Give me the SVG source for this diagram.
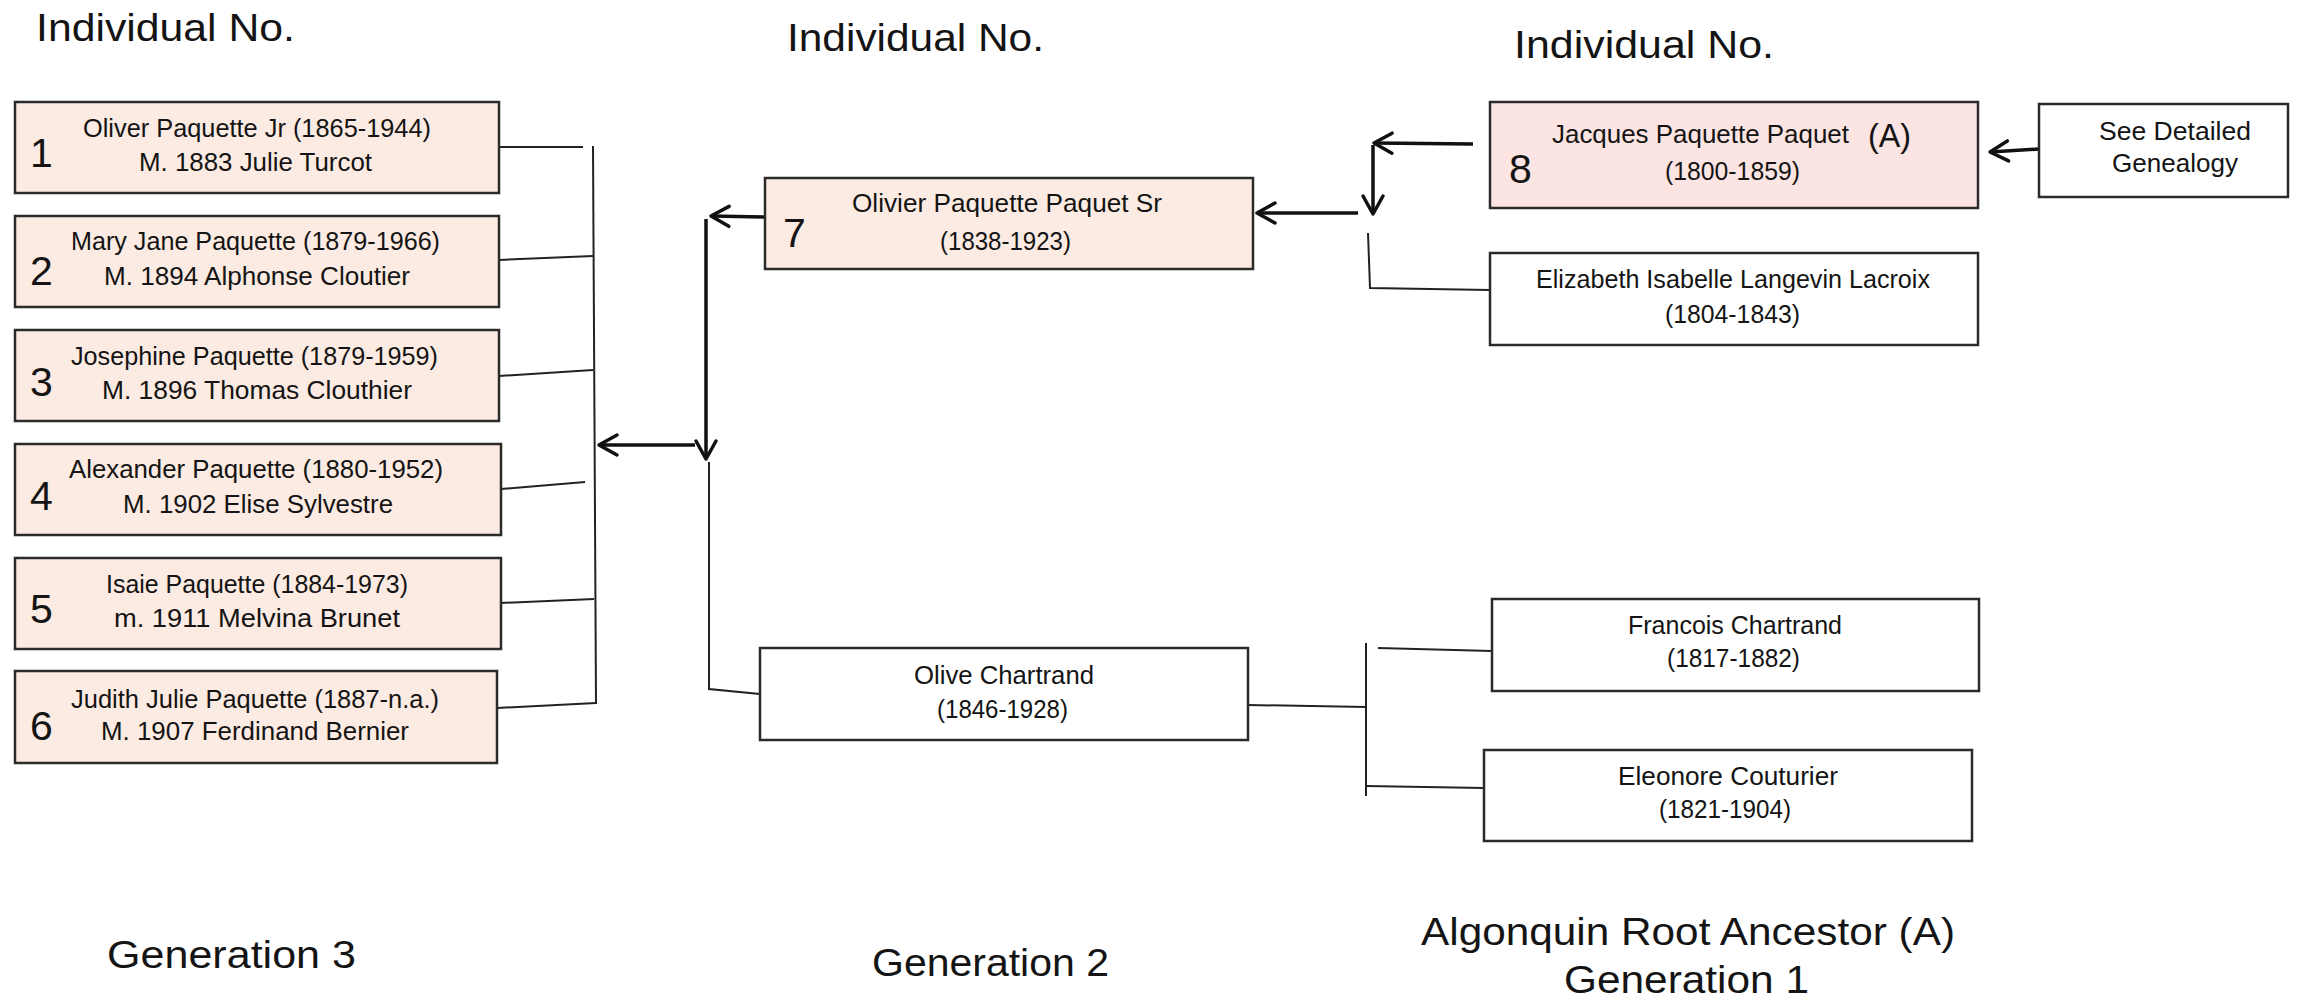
<svg xmlns="http://www.w3.org/2000/svg" width="2309" height="1006" viewBox="0 0 2309 1006">
<defs>
<style>
text{font-family:"Liberation Sans",Arial,sans-serif;fill:#141414}
.h{font-size:38px}
.t{font-size:25px}
.n{font-size:41px}
.box{stroke:#2b2b2b;stroke-width:2.5}
.peach{fill:#fcebe2}
.pink{fill:#fbe4e2}
.white{fill:#ffffff}
.ln{stroke:#222;stroke-width:2;fill:none}
.ar{stroke:#111;stroke-width:3.5;fill:none;marker-end:url(#arr)}
</style>
<marker id="arr" markerUnits="userSpaceOnUse" viewBox="-22 -14 26 28" markerWidth="26" markerHeight="28" refX="0" refY="0" orient="auto">
<path d="M-18,-10 L0,0 L-18,10" fill="none" stroke="#111" stroke-width="3.5" stroke-linecap="round" stroke-linejoin="round"/>
</marker>
</defs>
<rect width="2309" height="1006" fill="#ffffff"/>

<g id="headers">
<text class="h" x="36" y="41" textLength="259" lengthAdjust="spacingAndGlyphs">Individual No.</text>
<text class="h" x="787" y="51" textLength="257" lengthAdjust="spacingAndGlyphs">Individual No.</text>
<text class="h" x="1514" y="58" textLength="260" lengthAdjust="spacingAndGlyphs">Individual No.</text>
</g>

<g id="connectors">
<line class="ln" x1="499" y1="147" x2="583" y2="147"/>
<line class="ln" x1="499" y1="260" x2="593" y2="256"/>
<line class="ln" x1="499" y1="376" x2="593" y2="370"/>
<line class="ln" x1="501" y1="489" x2="585" y2="482"/>
<line class="ln" x1="501" y1="603" x2="594" y2="599"/>
<line class="ln" x1="497" y1="708" x2="596" y2="703"/>
<line class="ln" x1="593" y1="146" x2="596" y2="704"/>
<line class="ar" x1="695" y1="445" x2="599" y2="445"/>
<line class="ar" x1="765" y1="217" x2="711" y2="216"/>
<line class="ar" x1="706" y1="219" x2="706" y2="459"/>
<polyline class="ln" points="709,462 709,689 760,694"/>
<line class="ar" x1="1473" y1="144" x2="1374" y2="143"/>
<line class="ar" x1="1373" y1="145" x2="1373" y2="214"/>
<line class="ar" x1="1358" y1="213" x2="1257" y2="213"/>
<polyline class="ln" points="1368,233 1370,288 1490,290"/>
<line class="ar" x1="2039" y1="149" x2="1990" y2="152"/>
<line class="ln" x1="1248" y1="705" x2="1366" y2="707"/>
<line class="ln" x1="1366" y1="643" x2="1366" y2="796"/>
<line class="ln" x1="1378" y1="648" x2="1492" y2="651"/>
<line class="ln" x1="1366" y1="786" x2="1484" y2="788"/>
</g>

<g id="node1">
<rect class="box peach" x="15" y="102" width="484" height="91"/>
<text class="n" x="30" y="167">1</text>
<text class="t" x="83" y="137" textLength="348" lengthAdjust="spacingAndGlyphs">Oliver Paquette Jr (1865-1944)</text>
<text class="t" x="139" y="171" textLength="233" lengthAdjust="spacingAndGlyphs">M. 1883 Julie Turcot</text>
</g>
<g id="node2">
<rect class="box peach" x="15" y="216" width="484" height="91"/>
<text class="n" x="30" y="285">2</text>
<text class="t" x="71" y="250" textLength="369" lengthAdjust="spacingAndGlyphs">Mary Jane Paquette (1879-1966)</text>
<text class="t" x="104" y="285" textLength="306" lengthAdjust="spacingAndGlyphs">M. 1894 Alphonse Cloutier</text>
</g>
<g id="node3">
<rect class="box peach" x="15" y="330" width="484" height="91"/>
<text class="n" x="30" y="396">3</text>
<text class="t" x="71" y="365" textLength="367" lengthAdjust="spacingAndGlyphs">Josephine Paquette (1879-1959)</text>
<text class="t" x="102" y="399" textLength="310" lengthAdjust="spacingAndGlyphs">M. 1896 Thomas Clouthier</text>
</g>
<g id="node4">
<rect class="box peach" x="15" y="444" width="486" height="91"/>
<text class="n" x="30" y="510">4</text>
<text class="t" x="69" y="478" textLength="374" lengthAdjust="spacingAndGlyphs">Alexander Paquette (1880-1952)</text>
<text class="t" x="123" y="513" textLength="270" lengthAdjust="spacingAndGlyphs">M. 1902 Elise Sylvestre</text>
</g>
<g id="node5">
<rect class="box peach" x="15" y="558" width="486" height="91"/>
<text class="n" x="30" y="623">5</text>
<text class="t" x="106" y="593" textLength="302" lengthAdjust="spacingAndGlyphs">Isaie Paquette (1884-1973)</text>
<text class="t" x="114" y="627" textLength="286" lengthAdjust="spacingAndGlyphs">m. 1911 Melvina Brunet</text>
</g>
<g id="node6">
<rect class="box peach" x="15" y="671" width="482" height="92"/>
<text class="n" x="30" y="740">6</text>
<text class="t" x="71" y="708" textLength="368" lengthAdjust="spacingAndGlyphs">Judith Julie Paquette (1887-n.a.)</text>
<text class="t" x="101" y="740" textLength="308" lengthAdjust="spacingAndGlyphs">M. 1907 Ferdinand Bernier</text>
</g>

<g id="node7">
<rect class="box peach" x="765" y="178" width="488" height="91"/>
<text class="n" x="783" y="247">7</text>
<text class="t" x="852" y="212" textLength="310" lengthAdjust="spacingAndGlyphs">Olivier Paquette Paquet Sr</text>
<text class="t" x="940" y="250" textLength="131" lengthAdjust="spacingAndGlyphs">(1838-1923)</text>
</g>
<g id="node-olive">
<rect class="box white" x="760" y="648" width="488" height="92"/>
<text class="t" x="914" y="684" textLength="180" lengthAdjust="spacingAndGlyphs">Olive Chartrand</text>
<text class="t" x="937" y="718" textLength="131" lengthAdjust="spacingAndGlyphs">(1846-1928)</text>
</g>

<g id="node8">
<rect class="box pink" x="1490" y="102" width="488" height="106"/>
<text class="n" x="1509" y="183">8</text>
<text class="t" x="1552" y="143" textLength="297" lengthAdjust="spacingAndGlyphs">Jacques Paquette Paquet</text>
<text x="1868" y="147" style="font-size:33px" textLength="43" lengthAdjust="spacingAndGlyphs">(A)</text>
<text class="t" x="1665" y="180" textLength="135" lengthAdjust="spacingAndGlyphs">(1800-1859)</text>
</g>
<g id="node-elizabeth">
<rect class="box white" x="1490" y="253" width="488" height="92"/>
<text class="t" x="1536" y="288" textLength="394" lengthAdjust="spacingAndGlyphs">Elizabeth Isabelle Langevin Lacroix</text>
<text class="t" x="1665" y="323" textLength="135" lengthAdjust="spacingAndGlyphs">(1804-1843)</text>
</g>
<g id="node-see">
<rect class="box white" x="2039" y="104" width="249" height="93"/>
<text class="t" x="2099" y="140" style="font-size:26px" textLength="152" lengthAdjust="spacingAndGlyphs">See Detailed</text>
<text class="t" x="2112" y="172" style="font-size:26px" textLength="126" lengthAdjust="spacingAndGlyphs">Genealogy</text>
</g>
<g id="node-francois">
<rect class="box white" x="1492" y="599" width="487" height="92"/>
<text class="t" x="1628" y="634" textLength="214" lengthAdjust="spacingAndGlyphs">Francois Chartrand</text>
<text class="t" x="1667" y="667" textLength="133" lengthAdjust="spacingAndGlyphs">(1817-1882)</text>
</g>
<g id="node-eleonore">
<rect class="box white" x="1484" y="750" width="488" height="91"/>
<text class="t" x="1618" y="785" textLength="220" lengthAdjust="spacingAndGlyphs">Eleonore Couturier</text>
<text class="t" x="1659" y="818" textLength="132" lengthAdjust="spacingAndGlyphs">(1821-1904)</text>
</g>

<g id="footers">
<text class="h" x="107" y="968" textLength="249" lengthAdjust="spacingAndGlyphs">Generation 3</text>
<text class="h" x="872" y="976" textLength="237" lengthAdjust="spacingAndGlyphs">Generation 2</text>
<text class="h" x="1421" y="945" textLength="534" lengthAdjust="spacingAndGlyphs">Algonquin Root Ancestor (A)</text>
<text class="h" x="1564" y="993" textLength="245" lengthAdjust="spacingAndGlyphs">Generation 1</text>
</g>
</svg>
